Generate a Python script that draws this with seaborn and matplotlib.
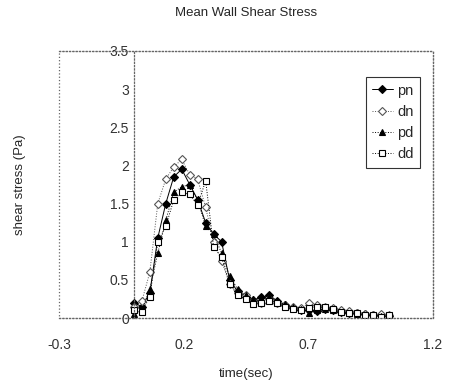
import numpy as np
import pandas as pd
import seaborn as sns
import matplotlib.pyplot as plt

# tempo (s) e tensao de cisalhamento media (Pa)
tempo = [0.000, 0.032, 0.064, 0.096, 0.128, 0.160, 0.192, 0.224, 0.256, 0.288,
         0.320, 0.352, 0.384, 0.416, 0.448, 0.480, 0.512, 0.544, 0.576, 0.608,
         0.640, 0.672, 0.704, 0.736, 0.768, 0.800, 0.832, 0.864, 0.896, 0.928,
         0.960, 0.992, 1.024]
pn = [0.20, 0.15, 0.33, 1.05, 1.50, 1.85, 1.95, 1.75, 1.55, 1.25,
      1.10, 1.00, 0.50, 0.35, 0.28, 0.24, 0.27, 0.30, 0.22, 0.17,
      0.13, 0.11, 0.10, 0.09, 0.12, 0.10, 0.08, 0.07, 0.06, 0.05,
      0.04, 0.04, 0.03]
dn = [0.15, 0.22, 0.60, 1.50, 1.82, 1.98, 2.08, 1.88, 1.82, 1.45,
      1.00, 0.75, 0.45, 0.33, 0.30, 0.22, 0.20, 0.25, 0.20, 0.17,
      0.14, 0.13, 0.20, 0.17, 0.15, 0.13, 0.10, 0.09, 0.07, 0.05,
      0.04, 0.05, 0.04]
pd_ = [0.05, 0.10, 0.38, 0.85, 1.28, 1.65, 1.72, 1.75, 1.55, 1.20,
       1.10, 0.85, 0.55, 0.38, 0.30, 0.25, 0.25, 0.27, 0.22, 0.18,
       0.14, 0.12, 0.06, 0.10, 0.12, 0.10, 0.08, 0.07, 0.05, 0.04,
       0.03, 0.03, 0.02]
dd = [0.10, 0.08, 0.28, 1.00, 1.20, 1.55, 1.65, 1.62, 1.48, 1.80,
      0.93, 0.80, 0.45, 0.30, 0.25, 0.18, 0.20, 0.22, 0.20, 0.15,
      0.12, 0.10, 0.13, 0.15, 0.14, 0.12, 0.08, 0.07, 0.06, 0.04,
      0.04, 0.02, 0.04]

df = pd.DataFrame({'tempo': tempo, 'pn': pn, 'dn': dn, 'pd': pd_, 'dd': dd})

sns.set_style('white')
plt.rcParams['font.family'] = ['Liberation Sans', 'DejaVu Sans']

fig = plt.figure(figsize=(4.51, 3.86), dpi=100)
ax = fig.add_axes([0.131, 0.176, 0.829, 0.692])

estilos = [
    ('pn', 'D', 'black', 'black', '-'),
    ('dn', 'D', 'white', '#555555', ':'),
    ('pd', '^', 'black', 'black', ':'),
    ('dd', 's', 'white', 'black', ':'),
]
for nome, marc, face, cor, ls in estilos:
    sns.lineplot(x='tempo', y=nome, data=df, ax=ax, color=cor, marker=marc,
                 markerfacecolor=face, markeredgecolor=cor, markersize=4.2,
                 markeredgewidth=0.8, linestyle=ls, linewidth=0.7, label=nome)

ax.set_xlim(-0.3, 1.2)
ax.set_ylim(0, 3.5)
ax.set_xticks([-0.3, 0.2, 0.7, 1.2])
ax.set_xticklabels(['-0.3', '0.2', '0.7', '1.2'])
ax.set_yticks([0, 0.5, 1, 1.5, 2, 2.5, 3, 3.5])
ax.set_yticklabels(['0', '0.5', '1', '1.5', '2', '2.5', '3', '3.5'])

# eixo y passa em x=0, moldura pontilhada
ax.spines['left'].set_position(('data', 0))
for s in ['left', 'right', 'top', 'bottom']:
    ax.spines[s].set_linestyle(':')
    ax.spines[s].set_color('#666666')
    ax.spines[s].set_linewidth(0.9)
ax.patch.set_edgecolor('#666666')
ax.patch.set_linestyle(':')
ax.patch.set_linewidth(0.9)
ax.tick_params(direction='in', length=3, labelsize=10, colors='#333333')
ax.tick_params(axis='x', pad=14)

ax.set_title('Mean Wall Shear Stress', fontsize=9.5, pad=25)
ax.set_xlabel('time(sec)', fontsize=9.5, labelpad=12)
ax.set_ylabel('shear stress (Pa)', fontsize=9.5, labelpad=0)
ax.yaxis.set_label_coords(-0.088, 0.5)

leg = ax.legend(loc='upper right', bbox_to_anchor=(0.985, 0.93), fontsize=10.5,
                frameon=True, fancybox=False, handlelength=1.4,
                handletextpad=0.3, borderpad=0.45, labelspacing=0.5)
leg.get_frame().set_edgecolor('black')
leg.get_frame().set_linewidth(0.8)

plt.savefig('out.png', dpi=100)
